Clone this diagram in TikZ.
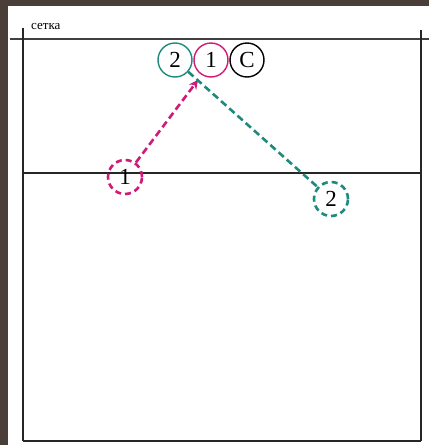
\documentclass[tikz,border=0pt]{standalone}
\usepackage{fontspec}
\setmainfont{Liberation Serif}
\usetikzlibrary{arrows.meta}
\definecolor{frame}{HTML}{4A3F38}
\definecolor{mag}{HTML}{D01A78}
\definecolor{teal2}{HTML}{1E8A7C}
\begin{document}
\begin{tikzpicture}[x=1pt,y=-1pt,
  player/.style={circle,draw,line width=1.4pt,minimum size=34pt,inner sep=0pt,font=\fontsize{23}{23}\selectfont},
  lowplayer/.style={circle,draw,dashed,dash pattern=on 6pt off 4pt,line width=2.6pt,minimum size=34pt,inner sep=0pt,font=\fontsize{23}{23}\selectfont},
  court/.style={line width=1.2pt,black!85},
  run/.style={dashed,dash pattern=on 7pt off 4pt,line width=2.6pt}]
\useasboundingbox (0,0) rectangle (429,445);
\fill[white] (0,0) rectangle (429,445);
\fill[frame] (0,0) rectangle (429,6);
\fill[frame] (0,0) rectangle (8,445);
% court
\draw[line width=1.8pt,black!75] (10,39) -- (429,39);
\draw[court] (23,28) -- (23,441);
\draw[court] (421,30) -- (421,441);
\draw[court] (23,173) -- (421,173);
\draw[court] (23,441) -- (421,441);
\node[anchor=west,inner sep=0pt,font=\fontsize{13}{13}\selectfont] (lbl) at (31,26) {сетка};
% players at net
\node[player,draw=teal2] (p2) at (175,60) {2};
\node[player,draw=mag] (p1) at (211,60) {1};
\node[player,draw=black] (pc) at (247,60) {C};
% lower players
\node[lowplayer,draw=mag] (q1) at (125,177) {1};
\node[lowplayer,draw=teal2] (q2) at (331,199) {2};
\coordinate (tip) at (198,80);
\draw[run,mag,-{Stealth[length=9pt,width=9pt]}] (q1) -- (tip);
\draw[run,teal2] (p2) -- (q2);
\end{tikzpicture}
\end{document}
